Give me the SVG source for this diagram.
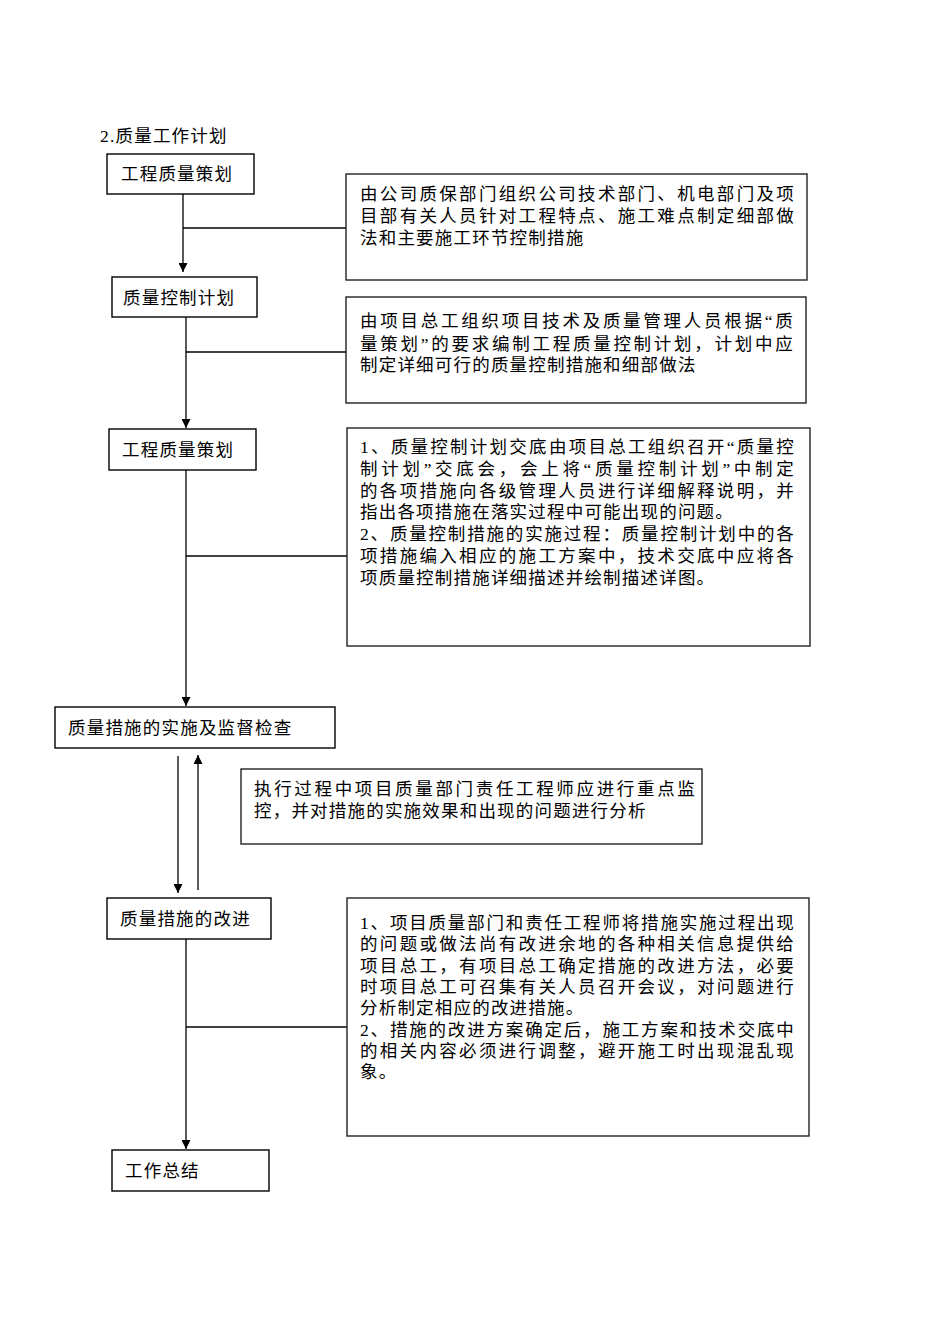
<svg xmlns="http://www.w3.org/2000/svg" width="950" height="1344" viewBox="0 0 950 1344">
<style>
  .bg{fill:#ffffff}
  .box{fill:#ffffff;stroke:#000000;stroke-width:1.4}
  .rbox{fill:#ffffff;stroke:#222222;stroke-width:1.4}
  .t{font-family:"Liberation Serif","Noto Sans CJK SC",serif;font-size:17.5px;letter-spacing:1.2px;fill:#000000}
  .c{stroke:#000000;stroke-width:1.3;fill:none}
</style>
<defs>
  <marker id="ah" markerWidth="9" markerHeight="9" refX="9" refY="4.5" orient="auto" markerUnits="userSpaceOnUse">
    <path d="M0,0 L9,4.5 L0,9 z" fill="#000000"/>
  </marker>
</defs>
<rect class="bg" x="0" y="0" width="950" height="1344"/>

<text id="title" class="t" x="100" y="142">2.质量工作计划</text>

<g id="connectors">
  <line class="c" x1="183" y1="194" x2="183" y2="272" marker-end="url(#ah)"/>
  <line class="c" x1="183" y1="228" x2="346" y2="228"/>
  <line class="c" x1="186" y1="317" x2="186" y2="428" marker-end="url(#ah)"/>
  <line class="c" x1="186" y1="352" x2="346" y2="352"/>
  <line class="c" x1="186" y1="470" x2="186" y2="706" marker-end="url(#ah)"/>
  <line class="c" x1="186" y1="556" x2="347" y2="556"/>
  <line class="c" x1="178" y1="756" x2="178" y2="893" marker-end="url(#ah)"/>
  <line class="c" x1="198" y1="890" x2="198" y2="755" marker-end="url(#ah)"/>
  <line class="c" x1="186" y1="939" x2="186" y2="1149" marker-end="url(#ah)"/>
  <line class="c" x1="186" y1="1027" x2="347" y2="1027"/>
</g>

<g id="n1">
  <rect class="box" x="107" y="154" width="147" height="40"/>
  <text class="t" x="121" y="180">工程质量策划</text>
</g>
<g id="n2">
  <rect class="box" x="112" y="277" width="145" height="40"/>
  <text class="t" x="123" y="304">质量控制计划</text>
</g>
<g id="n3">
  <rect class="box" x="109" y="429" width="147" height="41"/>
  <text class="t" x="122" y="456">工程质量策划</text>
</g>
<g id="n4">
  <rect class="box" x="55" y="707" width="280" height="41"/>
  <text class="t" x="68" y="734">质量措施的实施及监督检查</text>
</g>
<g id="n5">
  <rect class="box" x="107" y="898" width="164" height="41"/>
  <text class="t" x="120" y="925">质量措施的改进</text>
</g>
<g id="n6">
  <rect class="box" x="112" y="1150" width="157" height="41"/>
  <text class="t" x="125" y="1177">工作总结</text>
</g>

<g id="r1">
  <rect class="rbox" x="346" y="174" width="461" height="106"/>
  <text class="t" x="360" y="200" textLength="435" lengthAdjust="spacing">由公司质保部门组织公司技术部门、机电部门及项</text>
  <text class="t" x="360" y="222" textLength="435" lengthAdjust="spacing">目部有关人员针对工程特点、施工难点制定细部做</text>
  <text class="t" x="360" y="244">法和主要施工环节控制措施</text>
</g>
<g id="r2">
  <rect class="rbox" x="346" y="297" width="460" height="106"/>
  <text class="t" x="360" y="327" textLength="434" lengthAdjust="spacing">由项目总工组织项目技术及质量管理人员根据“质</text>
  <text class="t" x="360" y="350" textLength="434" lengthAdjust="spacing">量策划”的要求编制工程质量控制计划，计划中应</text>
  <text class="t" x="360" y="371">制定详细可行的质量控制措施和细部做法</text>
</g>
<g id="r3">
  <rect class="rbox" x="347" y="428" width="463" height="218"/>
  <text class="t" x="360" y="453" textLength="435" lengthAdjust="spacing">1、质量控制计划交底由项目总工组织召开“质量控</text>
  <text class="t" x="360" y="475" textLength="435" lengthAdjust="spacing">制计划”交底会，会上将“质量控制计划”中制定</text>
  <text class="t" x="360" y="497" textLength="435" lengthAdjust="spacing">的各项措施向各级管理人员进行详细解释说明，并</text>
  <text class="t" x="360" y="518">指出各项措施在落实过程中可能出现的问题。</text>
  <text class="t" x="360" y="540" textLength="435" lengthAdjust="spacing">2、质量控制措施的实施过程：质量控制计划中的各</text>
  <text class="t" x="360" y="562" textLength="435" lengthAdjust="spacing">项措施编入相应的施工方案中，技术交底中应将各</text>
  <text class="t" x="360" y="584">项质量控制措施详细描述并绘制描述详图。</text>
</g>
<g id="r4">
  <rect class="rbox" x="241" y="769" width="461" height="75"/>
  <text class="t" x="254" y="795" textLength="442" lengthAdjust="spacing">执行过程中项目质量部门责任工程师应进行重点监</text>
  <text class="t" x="254" y="817">控，并对措施的实施效果和出现的问题进行分析</text>
</g>
<g id="r5">
  <rect class="rbox" x="347" y="898" width="462" height="238"/>
  <text class="t" x="360" y="929" textLength="435" lengthAdjust="spacing">1、项目质量部门和责任工程师将措施实施过程出现</text>
  <text class="t" x="360" y="950" textLength="435" lengthAdjust="spacing">的问题或做法尚有改进余地的各种相关信息提供给</text>
  <text class="t" x="360" y="972" textLength="435" lengthAdjust="spacing">项目总工，有项目总工确定措施的改进方法，必要</text>
  <text class="t" x="360" y="993" textLength="435" lengthAdjust="spacing">时项目总工可召集有关人员召开会议，对问题进行</text>
  <text class="t" x="360" y="1014">分析制定相应的改进措施。</text>
  <text class="t" x="360" y="1036" textLength="435" lengthAdjust="spacing">2、措施的改进方案确定后，施工方案和技术交底中</text>
  <text class="t" x="360" y="1057" textLength="435" lengthAdjust="spacing">的相关内容必须进行调整，避开施工时出现混乱现</text>
  <text class="t" x="360" y="1078">象。</text>
</g>
</svg>
